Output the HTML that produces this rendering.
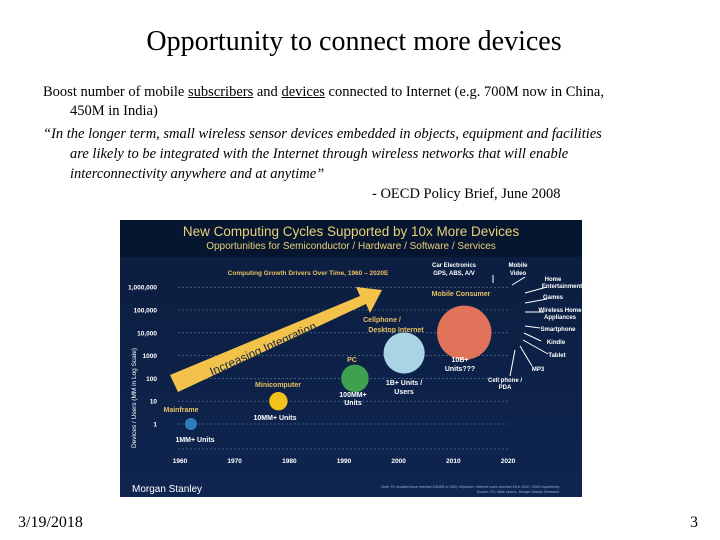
<!DOCTYPE html>
<html><head><meta charset="utf-8"><style>
body{margin:0;width:720px;height:540px;background:#fff;position:relative;overflow:hidden;font-family:"Liberation Serif",serif;color:#000}
.t{position:absolute;white-space:nowrap}
</style></head><body>
<div class="t" style="left:0;width:708px;text-align:center;top:26px;font-size:28px">Opportunity to connect more devices</div>
<div class="t" style="left:43px;top:83px;font-size:14.5px;line-height:19px">Boost number of mobile <u>subscribers</u> and <u>devices</u> connected to Internet (e.g. 700M now in China,<br><span style="padding-left:27px">450M in India)</span></div>
<div class="t" style="left:43px;top:124px;font-size:14.5px;line-height:20px;font-style:italic">“In the longer term, small wireless sensor devices embedded in objects, equipment and facilities<br><span style="padding-left:27px">are likely to be integrated with the Internet through wireless networks that will enable</span><br><span style="padding-left:27px">interconnectivity anywhere and at anytime”</span></div>
<div class="t" style="left:372px;top:186px;font-size:14.5px">- OECD Policy Brief, June 2008</div>
<div class="t" style="left:18px;top:514px;font-size:16px">3/19/2018</div>
<div class="t" style="left:690px;top:514px;font-size:16px">3</div>

<svg id="chart" style="position:absolute;left:120px;top:220px" width="462" height="277" font-family="Liberation Sans, sans-serif">
<defs>
<linearGradient id="bg" x1="0" y1="0" x2="0" y2="1"><stop offset="0" stop-color="#0b1d3e"/><stop offset="1" stop-color="#0f2550"/></linearGradient>
</defs>
<rect width="462" height="277" fill="url(#bg)"/>
<rect width="462" height="37" fill="#071630"/>
<text x="231" y="16" text-anchor="middle" fill="#e8d27a" font-size="13.5">New Computing Cycles Supported by 10x More Devices</text>
<text x="231" y="29" text-anchor="middle" fill="#e8d27a" font-size="10">Opportunities for Semiconductor / Hardware / Software / Services</text>
<text x="188" y="55" text-anchor="middle" fill="#e8c060" font-size="6.5" font-weight="bold">Computing Growth Drivers Over Time, 1960 – 2020E</text>
<text transform="translate(16,178) rotate(-90)" text-anchor="middle" fill="#fff" font-size="6.5">Devices / Users (MM in Log Scale)</text>
<g id="grid"></g>
<polygon points="50,155 240,76 236,67 262,70 250,93 246,84 58,172" fill="#f2c24a"/>
<text transform="translate(92,156) rotate(-24)" fill="#1a2a4a" font-size="12">Increasing Integration</text>
<g id="marks"></g>
<text x="334" y="47" fill="#fff" font-size="6" text-anchor="middle" font-weight="bold">Car Electronics</text>
<text x="334" y="55" fill="#fff" font-size="6" text-anchor="middle" font-weight="bold">GPS, ABS, A/V</text>
<text x="398" y="47" fill="#fff" font-size="6" text-anchor="middle" font-weight="bold">Mobile</text>
<text x="398" y="55" fill="#fff" font-size="6" text-anchor="middle" font-weight="bold">Video</text>
<text x="341" y="76" fill="#e8c060" font-size="7" text-anchor="middle" font-weight="bold">Mobile Consumer</text>
<g fill="#fff" font-size="6" font-weight="bold" text-anchor="middle">
<text x="433" y="61">Home</text><text x="442" y="68">Entertainment</text>
<text x="433" y="79">Games</text><text x="440" y="92">Wireless Home</text><text x="440" y="99">Appliances</text>
<text x="438" y="111">Smartphone</text><text x="436" y="124">Kindle</text><text x="437" y="137">Tablet</text>
<text x="418" y="151">MP3</text><text x="385" y="162">Cell phone /</text><text x="385" y="169">PDA</text>
</g>
<g stroke="#fff" stroke-width="1">
<line x1="373" y1="63" x2="373" y2="55"/><line x1="392" y1="65" x2="405" y2="57"/>
<line x1="405" y1="73" x2="427" y2="67"/><line x1="405" y1="83" x2="427" y2="79"/>
<line x1="405" y1="92" x2="424" y2="92"/><line x1="405" y1="106" x2="420" y2="108"/>
<line x1="404" y1="113" x2="421" y2="121"/><line x1="403" y1="120" x2="428" y2="134"/>
<line x1="400" y1="126" x2="412" y2="146"/><line x1="395" y1="130" x2="390" y2="156"/>
</g>
<g fill="#e8c060" font-size="7" font-weight="bold" text-anchor="middle">
<text x="61" y="192">Mainframe</text><text x="158" y="167">Minicomputer</text><text x="232" y="142">PC</text>
<text x="262" y="102">Cellphone /</text><text x="276" y="112">Desktop Internet</text>
</g>
<g fill="#fff" font-size="7" font-weight="bold" text-anchor="middle">
<text x="75" y="222">1MM+ Units</text><text x="155" y="200">10MM+ Units</text>
<text x="233" y="177">100MM+</text><text x="233" y="185">Units</text>
<text x="284" y="165">1B+ Units /</text><text x="284" y="174">Users</text>
<text x="340" y="142">10B+</text><text x="340" y="151">Units???</text>
</g>
<text x="12" y="272" fill="#fff" font-size="10">Morgan Stanley</text>
<text x="440" y="268" fill="#9fb0d0" font-size="3.5" text-anchor="end" font-style="italic">Note: PC installed base reached 100MM in 1993, cellphone / Internet users reached 1B in 2002 / 2005 respectively.</text>
<text x="440" y="273" fill="#9fb0d0" font-size="3.5" text-anchor="end" font-style="italic">Source: ITU, Mark Lipacis, Morgan Stanley Research.</text>
</svg>
<script>
const years=[1962,1978,1992,2001,2012];
const units=[1,10,100,1300,10000];
const bubbleNames=['mainframe','minicomputer','pc','cellphone-internet','mobile-consumer'];
const colors=['#2f7fc0','#f2c21a','#3fa050','#a8d4e6','#e0735a'];
const xTicks=[1960,1970,1980,1990,2000,2010,2020];
const yTicks=[1,10,100,1000,10000,100000,1000000];
const yTickLabels=['1','10','100','1000','10,000','100,000','1,000,000'];
const NS='http://www.w3.org/2000/svg';
function xs(v){return 60+(v-1960)*(388-60)/60;}
function ys(v){return 204-Math.log10(v)*22.8;}
function rs(v){const l=Math.log10(v);return 6+l*2.5+l*l*0.7;}
const grid=document.getElementById('grid'),marks=document.getElementById('marks');
function mk(tag,a,p){const e=document.createElementNS(NS,tag);for(const k in a)e.setAttribute(k,a[k]);p.appendChild(e);return e;}
yTicks.forEach((v,i)=>{
  const l=mk('line',{x1:58,x2:388,y1:ys(v),y2:ys(v),stroke:'#6a80a8','stroke-dasharray':'2,2','stroke-width':0.6},grid);
  
  
  const t=mk('text',{x:37,y:ys(v)+2.5,fill:'#fff','font-size':6.5,'font-weight':'bold','text-anchor':'end'},grid);
  t.textContent=yTickLabels[i];
  
  
});
mk('line',{x1:58,x2:388,y1:229,y2:229,stroke:'#6a80a8','stroke-dasharray':'2,2','stroke-width':0.6},grid);
xTicks.forEach(v=>{
  const t=mk('text',{x:xs(v),y:243,fill:'#fff','font-size':6.5,'font-weight':'bold','text-anchor':'middle'},grid);
  t.textContent=v;
  
  
});
years.forEach((y,i)=>{
  const g=mk('circle',{cx:xs(y),cy:ys(units[i]),r:rs(units[i]),fill:colors[i]},marks);
  
  
});
</script>
</body></html>
